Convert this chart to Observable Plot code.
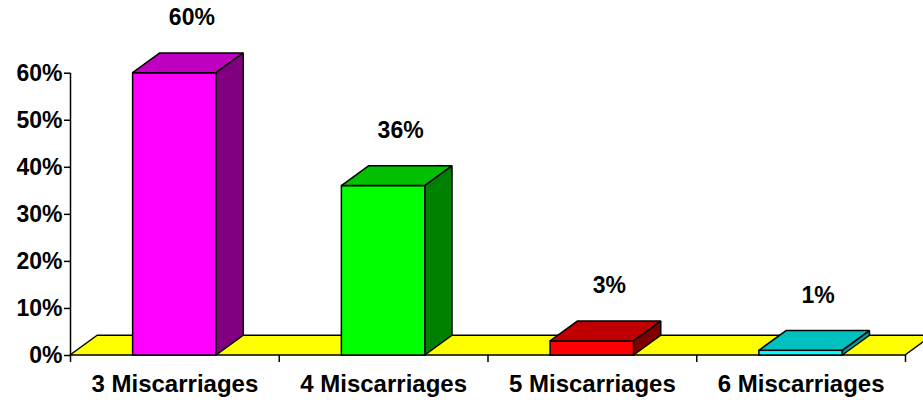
<!DOCTYPE html>
<html>
<head>
<meta charset="utf-8">
<script src="https://cdn.jsdelivr.net/npm/d3@7"></script>
<script src="https://cdn.jsdelivr.net/npm/@observablehq/plot@0.6"></script>
<style>
  html, body { margin: 0; padding: 0; background: #fff; }
  #chart { width: 923px; height: 400px; overflow: hidden; }
</style>
</head>
<body>
<div id="chart"></div>
<script>
// Share of patients by number of miscarriages
const categories = ["3 Miscarriages", "4 Miscarriages", "5 Miscarriages", "6 Miscarriages"];
const values = [60, 36, 3, 1];
const yTicks = [0, 10, 20, 30, 40, 50, 60];

// Face colours per bar: front, top, side
const frontColors = ["#ff00ff", "#00ff00", "#ff0000", "#00ffff"];
const topColors = ["#c000c0", "#00c000", "#c00000", "#00c0c0"];
const sideColors = ["#800080", "#008000", "#800000", "#009c9c"];

// 3D depth expressed in scale units (x: category bands, y: percent)
const depthX = 0.13;
const depthY = 4.2;
const halfBar = 0.2;

// Polygons as piecewise areas (x, y1, y2) so they go through the x/y scales
const faces = [];
// floor
[[0, 0, 0], [depthX, 0, depthY], [4, 0, depthY], [4 + depthX, depthY, depthY]]
  .forEach(([x, y1, y2]) => faces.push({id: "floor", x, y1, y2, fill: "#ffff00"}));
values.forEach((v, i) => {
  const xl = i + 0.5 - halfBar, xr = i + 0.5 + halfBar;
  // top face
  [[xl, v, v], [xl + depthX, v, v + depthY], [xr, v, v + depthY], [xr + depthX, v + depthY, v + depthY]]
    .forEach(([x, y1, y2]) => faces.push({id: "top" + i, x, y1, y2, fill: topColors[i]}));
  // side face
  [[xr, 0, v], [xr + depthX, depthY, v + depthY]]
    .forEach(([x, y1, y2]) => faces.push({id: "side" + i, x, y1, y2, fill: sideColors[i]}));
});

const fronts = values.map((v, i) => ({
  x1: i + 0.5 - halfBar, x2: i + 0.5 + halfBar, y1: 0, y2: v, fill: frontColors[i]
}));

const font = "'Liberation Sans', Arial, sans-serif";

const chart = Plot.plot({
  width: 923,
  height: 400,
  marginLeft: 70,
  marginRight: 18,
  marginTop: 72.7,
  marginBottom: 45,
  style: {fontFamily: font, color: "#000", background: "#fff", overflow: "visible"},
  x: {type: "linear", domain: [0, 4], axis: null},
  y: {domain: [0, 60], axis: null},
  color: {type: "identity"},
  marks: [
    Plot.areaY(faces.filter(d => d.id === "floor"), {
      x: "x", y1: "y1", y2: "y2", z: "id", fill: "fill", stroke: "#000", strokeWidth: 1.5, strokeLinejoin: "miter"
    }),
    Plot.rect(fronts, {
      x1: "x1", x2: "x2", y1: "y1", y2: "y2", fill: "fill", stroke: "#000", strokeWidth: 1.5
    }),
    Plot.areaY(faces.filter(d => d.id !== "floor"), {
      x: "x", y1: "y1", y2: "y2", z: "id", fill: "fill", stroke: "#000", strokeWidth: 1.5, strokeLinejoin: "miter"
    }),
    // y axis line and ticks
    Plot.ruleX([0], {y1: 0, y2: 60, stroke: "#000", strokeWidth: 1.5}),
    Plot.axisY({
      ticks: yTicks, tickFormat: d => d + "%", tickSize: 6, tickPadding: 2,
      fontSize: 23, fontWeight: "bold", fontFamily: font, stroke: "#000", strokeWidth: 1.5,
      fill: "#000", label: null
    }),
    // x axis boundary ticks
    Plot.axisX({
      ticks: [0, 1, 2, 3, 4], tickSize: 7, tickFormat: () => "", stroke: "#000", strokeWidth: 1.5, label: null
    }),
    // category labels
    Plot.axisX({
      ticks: [0.5, 1.5, 2.5, 3.5], tickSize: 0, tickPadding: 19,
      tickFormat: d => categories[Math.floor(d)],
      fontSize: 24, fontWeight: "bold", fontFamily: font, fill: "#000", label: null
    }),
    // value labels
    Plot.text(values, {
      x: (d, i) => i + 0.5, y: d => d, text: d => d + "%",
      dx: 17, dy: -48, lineAnchor: "bottom",
      fontSize: 23, fontWeight: "bold", fontFamily: font, fill: "#000"
    })
  ]
});

document.getElementById("chart").appendChild(chart);
</script>
</body>
</html>
